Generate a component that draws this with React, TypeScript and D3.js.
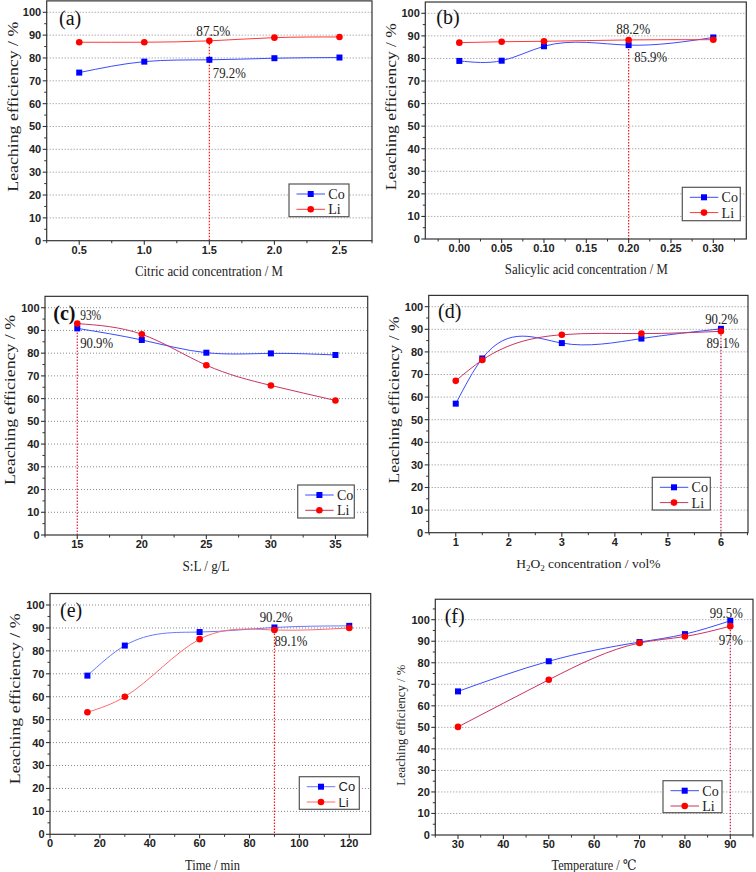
import React from 'react';
import * as d3 from 'd3';

// Six leaching-efficiency panels (a)-(f): Co and Li vs. one leaching parameter each.

const W = 756;
const H = 872;

const SERIF = "'Liberation Serif', 'DejaVu Serif', 'Times New Roman', serif";
const SANS = "'Liberation Sans', Arial, sans-serif";

// (a) citric acid concentration
const citricX = [0.5, 1.0, 1.5, 2.0, 2.5];
const citricCo = [73.6, 78.4, 79.2, 79.9, 80.2];
const citricLi = [86.9, 86.9, 87.5, 88.9, 89.2];
const citricTicks = [0.5, 1.0, 1.5, 2.0, 2.5];

// (b) salicylic acid concentration
const salicylicX = [0, 0.05, 0.1, 0.2, 0.3];
const salicylicCo = [78.9, 79.0, 85.4, 85.9, 89.3];
const salicylicLi = [87.0, 87.4, 87.6, 88.2, 88.3];
const salicylicTicks = [0, 0.05, 0.1, 0.15, 0.2, 0.25, 0.3];

// (c) solid : liquid ratio
const slX = [15, 20, 25, 30, 35];
const slCo = [90.9, 85.8, 80.2, 79.9, 79.2];
const slLi = [93.0, 88.3, 74.7, 65.8, 59.2];
const slTicks = [15, 20, 25, 30, 35];

// (d) H2O2 concentration
const h2o2X = [1, 1.5, 3, 4.5, 6];
const h2o2Co = [57.1, 77.1, 83.9, 85.9, 90.2];
const h2o2Li = [67.2, 76.4, 87.6, 88.1, 89.1];
const h2o2Ticks = [1, 2, 3, 4, 5, 6];

// (e) time
const timeX = [15, 30, 60, 90, 120];
const timeCo = [69.2, 82.3, 88.2, 90.2, 90.9];
const timeLi = [53.2, 60.0, 85.1, 89.1, 90.0];
const timeTicks = [0, 20, 40, 60, 80, 100, 120];

// (f) temperature
const tempX = [30, 50, 70, 80, 90];
const tempCo = [66.7, 80.7, 89.6, 93.3, 99.5];
const tempLi = [50.2, 72.1, 89.2, 92.2, 97.0];
const tempTicks = [30, 40, 50, 60, 70, 80, 90];

const yTicks = [0, 10, 20, 30, 40, 50, 60, 70, 80, 90, 100];
const gridTicks = [10, 20, 30, 40, 50, 60, 70, 80, 90, 100];

// Natural cubic spline of y as a function of x (like Origin's "Spline" connector),
// written as a d3 curve factory so d3.line can use it.
function curveSplineX(context: any) {
  let xs: number[] = [];
  let ys: number[] = [];
  return {
    areaStart() {},
    areaEnd() {},
    lineStart() {
      xs = [];
      ys = [];
    },
    point(x: number, y: number) {
      xs.push(+x);
      ys.push(+y);
    },
    lineEnd() {
      const n = xs.length;
      if (n === 0) return;
      context.moveTo(xs[0], ys[0]);
      if (n === 1) return;
      if (n === 2) {
        context.lineTo(xs[1], ys[1]);
        return;
      }
      const h = d3.range(n - 1).map((i) => xs[i + 1] - xs[i]);
      const s = d3.range(n - 1).map((i) => (ys[i + 1] - ys[i]) / h[i]);
      // tridiagonal solve for second derivatives, natural ends
      const M = new Array(n).fill(0);
      const a: number[] = [];
      const b: number[] = [];
      const c: number[] = [];
      const r: number[] = [];
      for (let i = 1; i < n - 1; i++) {
        a.push(h[i - 1]);
        b.push(2 * (h[i - 1] + h[i]));
        c.push(h[i]);
        r.push(6 * (s[i] - s[i - 1]));
      }
      const m = b.length;
      for (let i = 1; i < m; i++) {
        const w = a[i] / b[i - 1];
        b[i] -= w * c[i - 1];
        r[i] -= w * r[i - 1];
      }
      const sol = new Array(m).fill(0);
      sol[m - 1] = r[m - 1] / b[m - 1];
      for (let i = m - 2; i >= 0; i--) sol[i] = (r[i] - c[i] * sol[i + 1]) / b[i];
      for (let i = 0; i < m; i++) M[i + 1] = sol[i];
      for (let i = 0; i < n - 1; i++) {
        const m0 = s[i] - (h[i] * (2 * M[i] + M[i + 1])) / 6;
        const m1 = s[i] + (h[i] * (M[i] + 2 * M[i + 1])) / 6;
        context.bezierCurveTo(
          xs[i] + h[i] / 3,
          ys[i] + (m0 * h[i]) / 3,
          xs[i + 1] - h[i] / 3,
          ys[i + 1] - (m1 * h[i]) / 3,
          xs[i + 1],
          ys[i + 1],
        );
      }
    },
  };
}

type Note = { text: string; x: number; y: number; dx: number; dy: number; len: number };

type Panel = {
  label: string;
  bold?: boolean;
  xs: number[];
  co: number[];
  li: number[];
  ticks: number[];
  fmt: string;
  minorStart: number;
  minorStep: number;
  xDomain: [number, number];
  yMax: number;
  left: number;
  right: number;
  y0: number;
  y100: number;
  xTitle: string;
  xTitleX: number;
  xTitleY: number;
  xTitleLen: number;
  yTitleX: number;
  yTitleY: number;
  yTitleLen: number;
  yTitleSize: number;
  labelX: number;
  labelY: number;
  legend: { x: number; y: number; w: number; h: number; sans?: boolean };
  mark: { x: number; top: number };
  notes: Note[];
  coLine: string;
  liLine: string;
  markColor: string;
};

const panels: Panel[] = [
  {
    label: '(a)',
    xs: citricX, co: citricCo, li: citricLi, ticks: citricTicks, fmt: '.1f',
    minorStart: 0.25, minorStep: 0.25, xDomain: [0.25, 2.75], yMax: 105,
    left: 46.7, right: 372, y0: 240.7, y100: 12.3,
    xTitle: 'Citric acid concentration / M', xTitleX: 209, xTitleY: 270.7, xTitleLen: 148,
    yTitleX: 12.7, yTitleY: 106.7, yTitleLen: 170, yTitleSize: 15,
    labelX: 59, labelY: 18.3,
    legend: { x: 289, y: 184, w: 60, h: 32.7 },
    mark: { x: citricX[2], top: citricLi[2] },
    notes: [
      { text: '87.5%', x: citricX[2], y: citricLi[2], dx: 4, dy: -10, len: 34 },
      { text: '79.2%', x: citricX[2], y: citricCo[2], dx: 20, dy: 13.5, len: 33 },
    ],
    coLine: '#3a4cff', liLine: '#ff3838', markColor: '#ff1010',
  },
  {
    label: '(b)',
    xs: salicylicX, co: salicylicCo, li: salicylicLi, ticks: salicylicTicks, fmt: '.2f',
    minorStart: -0.025, minorStep: 0.025, xDomain: [-0.0402, 0.339], yMax: 105,
    left: 425.3, right: 746.3, y0: 239, y100: 13.3,
    xTitle: 'Salicylic acid concentration / M', xTitleX: 586.3, xTitleY: 269.3, xTitleLen: 163,
    yTitleX: 390.7, yTitleY: 106.7, yTitleLen: 167, yTitleSize: 15,
    labelX: 436.3, labelY: 17.3,
    legend: { x: 682.3, y: 187.3, w: 58, h: 33.4 },
    mark: { x: salicylicX[3], top: salicylicLi[3] },
    notes: [
      { text: '88.2%', x: salicylicX[3], y: salicylicLi[3], dx: 4.5, dy: -11, len: 34 },
      { text: '85.9%', x: salicylicX[3], y: salicylicCo[3], dx: 22, dy: 12, len: 33 },
    ],
    coLine: '#3a4cff', liLine: '#ff3838', markColor: '#ff1010',
  },
  {
    label: '(c)', bold: true,
    xs: slX, co: slCo, li: slLi, ticks: slTicks, fmt: 'd',
    minorStart: 12.5, minorStep: 2.5, xDomain: [12.5, 37.5], yMax: 105,
    left: 45, right: 367.7, y0: 535, y100: 307.7,
    xTitle: 'S:L / g/L', xTitleX: 206, xTitleY: 566, xTitleLen: 47,
    yTitleX: 9.3, yTitleY: 400, yTitleLen: 170, yTitleSize: 15,
    labelX: 53.3, labelY: 313.3,
    legend: { x: 297.7, y: 485, w: 56.6, h: 33 },
    mark: { x: slX[0], top: slLi[0] },
    notes: [
      { text: '93%', x: slX[0], y: slLi[0], dx: 13.4, dy: -8.6, len: 21 },
      { text: '90.9%', x: slX[0], y: slCo[0], dx: 19.4, dy: 15, len: 33 },
    ],
    coLine: '#3a4cff', liLine: '#c83560', markColor: '#e0203a',
  },
  {
    label: '(d)',
    xs: h2o2X, co: h2o2Co, li: h2o2Li, ticks: h2o2Ticks, fmt: 'd',
    minorStart: 0.5, minorStep: 0.5, xDomain: [0.49, 6.51], yMax: 105,
    left: 428.7, right: 748, y0: 532.7, y100: 306.7,
    xTitle: 'H2O2', xTitleX: 588.3, xTitleY: 563.3, xTitleLen: 134,
    yTitleX: 394, yTitleY: 400, yTitleLen: 167, yTitleSize: 15,
    labelX: 438, labelY: 311.7,
    legend: { x: 652.3, y: 477.3, w: 58, h: 32.7 },
    mark: { x: h2o2X[4], top: h2o2Co[4] },
    notes: [
      { text: '90.2%', x: h2o2X[4], y: h2o2Co[4], dx: 0.7, dy: -9.5, len: 33 },
      { text: '89.1%', x: h2o2X[4], y: h2o2Li[4], dx: 2, dy: 11.4, len: 33 },
    ],
    coLine: '#3a4cff', liLine: '#c83560', markColor: '#c02050',
  },
  {
    label: '(e)',
    xs: timeX, co: timeCo, li: timeLi, ticks: timeTicks, fmt: 'd',
    minorStart: 10, minorStep: 10, xDomain: [0, 128.6], yMax: 105,
    left: 50, right: 370.7, y0: 834.3, y100: 605,
    xTitle: 'Time / min', xTitleX: 212.5, xTitleY: 865, xTitleLen: 55,
    yTitleX: 15, yTitleY: 698.8, yTitleLen: 171, yTitleSize: 15,
    labelX: 60, labelY: 610.7,
    legend: { x: 299.3, y: 776.7, w: 60, h: 32.6, sans: true },
    mark: { x: timeX[3], top: timeCo[3] },
    notes: [
      { text: '90.2%', x: timeX[3], y: timeCo[3], dx: 1.8, dy: -10.2, len: 33 },
      { text: '89.1%', x: timeX[3], y: timeLi[3], dx: 16.5, dy: 11, len: 33 },
    ],
    coLine: '#6a78ff', liLine: '#ff6a6a', markColor: '#ff1010',
  },
  {
    label: '(f)',
    xs: tempX, co: tempCo, li: tempLi, ticks: tempTicks, fmt: 'd',
    minorStart: 25, minorStep: 10, xDomain: [25, 95], yMax: 109.5,
    left: 435.3, right: 753, y0: 835, y100: 619.7,
    xTitle: 'Temperature / ℃', xTitleX: 594, xTitleY: 865, xTitleLen: 85,
    yTitleX: 400.7, yTitleY: 725.3, yTitleLen: 121, yTitleSize: 13,
    labelX: 444.7, labelY: 616.7,
    legend: { x: 663, y: 780.7, w: 59, h: 32 },
    mark: { x: tempX[4], top: tempCo[4] },
    notes: [
      { text: '99.5%', x: tempX[4], y: tempCo[4], dx: -4, dy: -8, len: 33 },
      { text: '97%', x: tempX[4], y: tempLi[4], dx: 0.5, dy: 13.8, len: 24 },
    ],
    coLine: '#3a4cff', liLine: '#c83560', markColor: '#c02050',
  },
];

const CO_MARK = '#0000ff';
const LI_MARK = '#ff0000';

function PanelView({ p }: { p: Panel }) {
  const x = d3.scaleLinear().domain(p.xDomain).range([p.left, p.right]);
  const y = d3.scaleLinear().domain([0, 100]).range([p.y0, p.y100]);
  const top = y(p.yMax);
  const bottom = p.y0;

  const line = d3
    .line<[number, number]>()
    .x((d) => x(d[0]))
    .y((d) => y(d[1]))
    .curve(curveSplineX as any);

  const coPts = p.xs.map((v, i) => [v, p.co[i]] as [number, number]);
  const liPts = p.xs.map((v, i) => [v, p.li[i]] as [number, number]);

  const fmt = d3.format(p.fmt);
  const eps = 1e-9;
  const minors = d3
    .range(p.minorStart, p.xDomain[1] + eps, p.minorStep)
    .filter((v) => v >= p.xDomain[0] - eps && !p.ticks.some((t) => Math.abs(t - v) < eps));
  const yMinors = d3.range(5, p.yMax, 10);

  const lg = p.legend;
  const lgFont = lg.sans ? SANS : SERIF;
  const rows = [
    { name: 'Co', line: p.coLine, color: CO_MARK, shape: 'sq', ry: lg.y + 10 },
    { name: 'Li', line: p.liLine, color: LI_MARK, shape: 'ci', ry: lg.y + 25.3 },
  ];

  return (
    <g>
      {/* grid */}
      {gridTicks.map((t) => (
        <line
          key={`g${t}`}
          x1={p.left}
          x2={p.right}
          y1={y(t)}
          y2={y(t)}
          stroke="#8a8a8a"
          strokeWidth={1}
          strokeDasharray="1,2"
        />
      ))}

      {/* dotted marker line at the chosen condition */}
      <line
        x1={x(p.mark.x)}
        x2={x(p.mark.x)}
        y1={y(p.mark.top)}
        y2={bottom}
        stroke={p.markColor}
        strokeWidth={1.2}
        strokeDasharray="1.5,1.5"
      />

      {/* series */}
      <path d={line(coPts) ?? ''} fill="none" stroke={p.coLine} strokeWidth={1} />
      <path d={line(liPts) ?? ''} fill="none" stroke={p.liLine} strokeWidth={1} />
      {coPts.map((d, i) => (
        <rect key={`c${i}`} x={x(d[0]) - 3} y={y(d[1]) - 3} width={6} height={6} fill={CO_MARK} />
      ))}
      {liPts.map((d, i) => (
        <circle key={`l${i}`} cx={x(d[0])} cy={y(d[1])} r={3.3} fill={LI_MARK} />
      ))}

      {/* frame */}
      <rect
        x={p.left}
        y={top}
        width={p.right - p.left}
        height={bottom - top}
        fill="none"
        stroke="#333"
        strokeWidth={1.2}
      />

      {/* x ticks */}
      {p.ticks.map((t) => (
        <g key={`xt${t}`}>
          <line x1={x(t)} x2={x(t)} y1={bottom} y2={bottom + 4} stroke="#333" strokeWidth={1.1} />
          <text
            x={x(t)}
            y={bottom + 5}
            dy="0.71em"
            textAnchor="middle"
            fontFamily={SANS}
            fontWeight="bold"
            fontSize={11}
            fill="#222"
          >
            {fmt(t)}
          </text>
        </g>
      ))}
      {minors.map((t, i) => (
        <line key={`xm${i}`} x1={x(t)} x2={x(t)} y1={bottom} y2={bottom + 2.5} stroke="#333" strokeWidth={1} />
      ))}

      {/* y ticks */}
      {yTicks.map((t) => (
        <g key={`yt${t}`}>
          <line x1={p.left - 4} x2={p.left} y1={y(t)} y2={y(t)} stroke="#333" strokeWidth={1.1} />
          <text
            x={p.left - 5.5}
            y={y(t)}
            dy="0.36em"
            textAnchor="end"
            fontFamily={SANS}
            fontWeight="bold"
            fontSize={11}
            fill="#222"
          >
            {t}
          </text>
        </g>
      ))}
      {yMinors.map((t) => (
        <line key={`ym${t}`} x1={p.left - 2.5} x2={p.left} y1={y(t)} y2={y(t)} stroke="#333" strokeWidth={1} />
      ))}

      {/* annotations */}
      {p.notes.map((n) => (
        <text
          key={n.text + n.dy}
          x={x(n.x) + n.dx}
          y={y(n.y) + n.dy}
          dy="0.35em"
          textAnchor="middle"
          fontFamily={SERIF}
          fontSize={14}
          textLength={n.len}
          lengthAdjust="spacingAndGlyphs"
          fill="#222"
        >
          {n.text}
        </text>
      ))}

      {/* panel label */}
      <text
        x={p.labelX}
        y={p.labelY}
        dy="0.33em"
        fontFamily={SERIF}
        fontSize={20}
        fontWeight={p.bold ? 'bold' : 'normal'}
        fill="#111"
      >
        {p.label}
      </text>

      {/* axis titles */}
      {p.xTitle === 'H2O2' ? (
        <text
          x={p.xTitleX}
          y={p.xTitleY}
          dy="0.35em"
          textAnchor="middle"
          fontFamily={SERIF}
          fontSize={13.5}
          fill="#222"
        >
          H<tspan fontSize={9} dy={3}>2</tspan>
          <tspan dy={-3}>O</tspan>
          <tspan fontSize={9} dy={3}>2</tspan>
          <tspan dy={-3}> concentration / vol%</tspan>
        </text>
      ) : (
        <text
          x={p.xTitleX}
          y={p.xTitleY}
          dy="0.35em"
          textAnchor="middle"
          fontFamily={SERIF}
          fontSize={14.5}
          textLength={p.xTitleLen}
          lengthAdjust="spacingAndGlyphs"
          fill="#222"
        >
          {p.xTitle}
        </text>
      )}
      <text
        transform={`translate(${p.yTitleX},${p.yTitleY}) rotate(-90)`}
        dy="0.35em"
        textAnchor="middle"
        fontFamily={SERIF}
        fontSize={p.yTitleSize}
        textLength={p.yTitleLen}
        lengthAdjust="spacingAndGlyphs"
        fill="#222"
      >
        Leaching efficiency / %
      </text>

      {/* legend */}
      <rect x={lg.x} y={lg.y} width={lg.w} height={lg.h} fill="#fff" stroke="#555" strokeWidth={1.2} />
      {rows.map((r) => (
        <g key={r.name}>
          <line x1={lg.x + 7.5} x2={lg.x + 36} y1={r.ry} y2={r.ry} stroke={r.line} strokeWidth={1} />
          {r.shape === 'sq' ? (
            <rect x={lg.x + 21.7 - 3} y={r.ry - 3} width={6} height={6} fill={r.color} />
          ) : (
            <circle cx={lg.x + 21.7} cy={r.ry} r={3.3} fill={r.color} />
          )}
          <text
            x={lg.x + 39.3}
            y={r.ry}
            dy="0.35em"
            fontFamily={lgFont}
            fontSize={lg.sans ? 13 : 14}
            fill="#222"
          >
            {r.name}
          </text>
        </g>
      ))}
    </g>
  );
}

export default function App() {
  return (
    <svg
      width={W}
      height={H}
      viewBox={`0 0 ${W} ${H}`}
      style={{ position: 'absolute', left: 0, top: 0, background: '#fff' }}
    >
      <rect width={W} height={H} fill="#fff" />
      {panels.map((p) => (
        <PanelView key={p.label} p={p} />
      ))}
    </svg>
  );
}
